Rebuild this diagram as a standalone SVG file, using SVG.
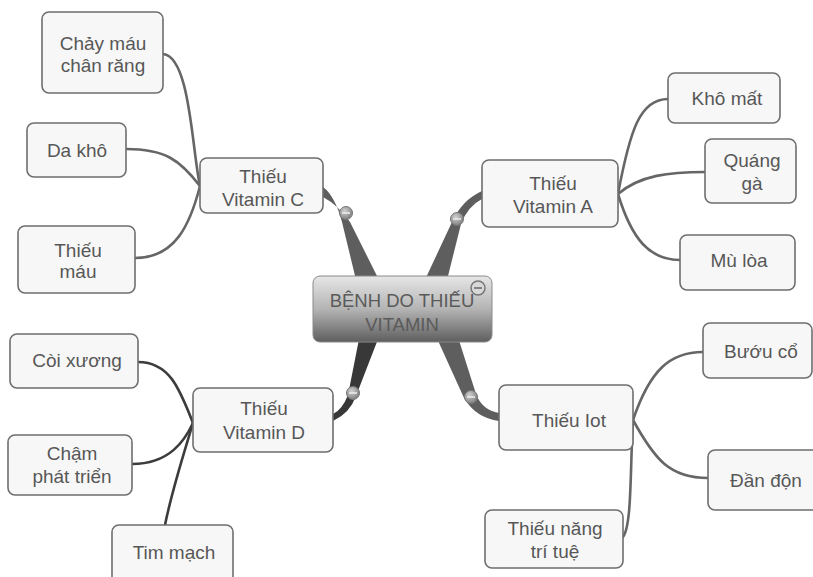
<svg xmlns="http://www.w3.org/2000/svg" width="813" height="577" viewBox="0 0 813 577">
<defs>
<linearGradient id="cg" x1="0" y1="0" x2="0" y2="1">
<stop offset="0" stop-color="#e6e6e6"/>
<stop offset="0.5" stop-color="#b4b4b4"/>
<stop offset="1" stop-color="#5e5e5e"/>
</linearGradient>
<radialGradient id="kg" cx="0.4" cy="0.35" r="0.7">
<stop offset="0" stop-color="#d0d0d0"/>
<stop offset="1" stop-color="#7a7a7a"/>
</radialGradient>
<style>
.box{fill:#f7f7f7;stroke:#6e6e6e;stroke-width:1.6}
.t{font-family:"Liberation Sans",Arial,sans-serif;font-size:19px;fill:#575757;text-anchor:middle}
.ct{font-family:"Liberation Sans",Arial,sans-serif;font-size:18.5px;fill:#5a5a5a;text-anchor:middle}
.ln{fill:none;stroke:#666;stroke-width:2.6;stroke-linecap:round}
.lnd{fill:none;stroke:#3c3c3c;stroke-width:2.6;stroke-linecap:round}
.br{fill:#5e5e5e}
.brd{fill:#383838}
.knob{fill:url(#kg);stroke:#777;stroke-width:1}
.minus{stroke:#eee;stroke-width:1.5}
</style>
</defs>
<rect width="813" height="577" fill="#fff"/>
<g id="connectors">
<path class="br" d="M357 284 L342 222 Q335 196 323 187 L323 197 Q338 205 350 222 L381 284 Z"/>
<path class="br" d="M423 284 L452 222 Q462 200 482 191 L482 199 Q468 206 461 224 L446 284 Z"/>
<path class="brd" d="M360 334 L348 395 Q342 410 333 414 L333 421 Q350 413 356 396 L380 334 Z"/>
<path class="br" d="M435 334 L464 398 Q476 418 499 421 L499 413 Q482 410 476 394 L457 334 Z"/>
<path class="ln" d="M163 54 C190 56 192 150 200 186"/>
<path class="ln" d="M126 149 C165 149 180 160 200 186"/>
<path class="ln" d="M135 258 C175 258 190 225 200 186"/>
<path class="ln" d="M618 194 C630 130 640 99 668 99"/>
<path class="ln" d="M618 194 C640 175 670 172 705 172"/>
<path class="ln" d="M618 194 C632 240 650 260 680 260"/>
<path class="lnd" d="M138 362 C170 362 180 390 193 423"/>
<path class="lnd" d="M132 464 C170 464 185 440 193 423"/>
<path class="lnd" d="M165 525 C172 490 185 450 193 423"/>
<path class="ln" d="M633 420 C650 370 670 352 703 352"/>
<path class="ln" d="M633 420 C655 460 670 478 708 478"/>
<path class="ln" d="M633 420 C630 470 632 525 623 537"/>
<circle class="knob" cx="346" cy="213" r="6.5"/><line class="minus" x1="342" y1="213" x2="350" y2="213"/>
<circle class="knob" cx="457" cy="219" r="6.5"/><line class="minus" x1="453" y1="219" x2="461" y2="219"/>
<circle class="knob" cx="353" cy="393" r="6.5"/><line class="minus" x1="349" y1="393" x2="357" y2="393"/>
<circle class="knob" cx="471" cy="397" r="6.5"/><line class="minus" x1="467" y1="397" x2="475" y2="397"/>
</g>
<g id="center">
<rect x="313" y="276" width="179" height="66" rx="7" fill="url(#cg)" stroke="#8a8a8a" stroke-width="1"/>
<text class="ct" x="402" y="307">BỆNH DO THIẾU</text>
<text class="ct" x="402" y="331">VITAMIN</text>
<circle cx="478" cy="288" r="7" fill="#d8d8d8" stroke="#777" stroke-width="1.5"/>
<line x1="474" y1="288" x2="482" y2="288" stroke="#666" stroke-width="1.5"/>
</g>
<g id="vitC"><rect class="box" x="200" y="158" width="123" height="55" rx="7"/><text class="t" x="263" y="183">Thiếu</text><text class="t" x="263" y="206">Vitamin C</text></g>
<g id="chaymau"><rect class="box" x="42" y="12" width="121" height="81" rx="7"/><text class="t" x="103" y="50">Chảy máu</text><text class="t" x="103" y="72">chân răng</text></g>
<g id="dakho"><rect class="box" x="27" y="123" width="99" height="54" rx="7"/><text class="t" x="77" y="157">Da khô</text></g>
<g id="thieumau"><rect class="box" x="18" y="226" width="117" height="67" rx="7"/><text class="t" x="78" y="257">Thiếu</text><text class="t" x="78" y="278">máu</text></g>
<g id="vitA"><rect class="box" x="482" y="160" width="136" height="67" rx="7"/><text class="t" x="553" y="190">Thiếu</text><text class="t" x="553" y="213">Vitamin A</text></g>
<g id="khomat"><rect class="box" x="668" y="73" width="112" height="50" rx="7"/><text class="t" x="727" y="105">Khô mất</text></g>
<g id="quangga"><rect class="box" x="705" y="139" width="91" height="64" rx="7"/><text class="t" x="752" y="167">Quáng</text><text class="t" x="752" y="190">gà</text></g>
<g id="mulua"><rect class="box" x="680" y="235" width="115" height="55" rx="7"/><text class="t" x="739" y="267">Mù lòa</text></g>
<g id="vitD"><rect class="box" x="193" y="388" width="140" height="64" rx="7"/><text class="t" x="264" y="415">Thiếu</text><text class="t" x="264" y="439">Vitamin D</text></g>
<g id="coixuong"><rect class="box" x="10" y="334" width="128" height="54" rx="7"/><text class="t" x="77" y="367">Còi xương</text></g>
<g id="champhattrien"><rect class="box" x="8" y="435" width="124" height="60" rx="7"/><text class="t" x="72" y="460">Chậm</text><text class="t" x="72" y="483">phát triển</text></g>
<g id="timmach"><rect class="box" x="112" y="525" width="121" height="65" rx="7"/><text class="t" x="174" y="559">Tim mạch</text></g>
<g id="iot"><rect class="box" x="499" y="385" width="134" height="65" rx="7"/><text class="t" x="569" y="427">Thiếu Iot</text></g>
<g id="buouco"><rect class="box" x="703" y="323" width="109" height="55" rx="7"/><text class="t" x="761" y="358">Bướu cổ</text></g>
<g id="danndon"><rect class="box" x="708" y="450" width="117" height="60" rx="7"/><text class="t" x="766" y="487">Đần độn</text></g>
<g id="thieunang"><rect class="box" x="485" y="510" width="138" height="58" rx="7"/><text class="t" x="555" y="535">Thiếu năng</text><text class="t" x="555" y="558">trí tuệ</text></g>
</svg>
